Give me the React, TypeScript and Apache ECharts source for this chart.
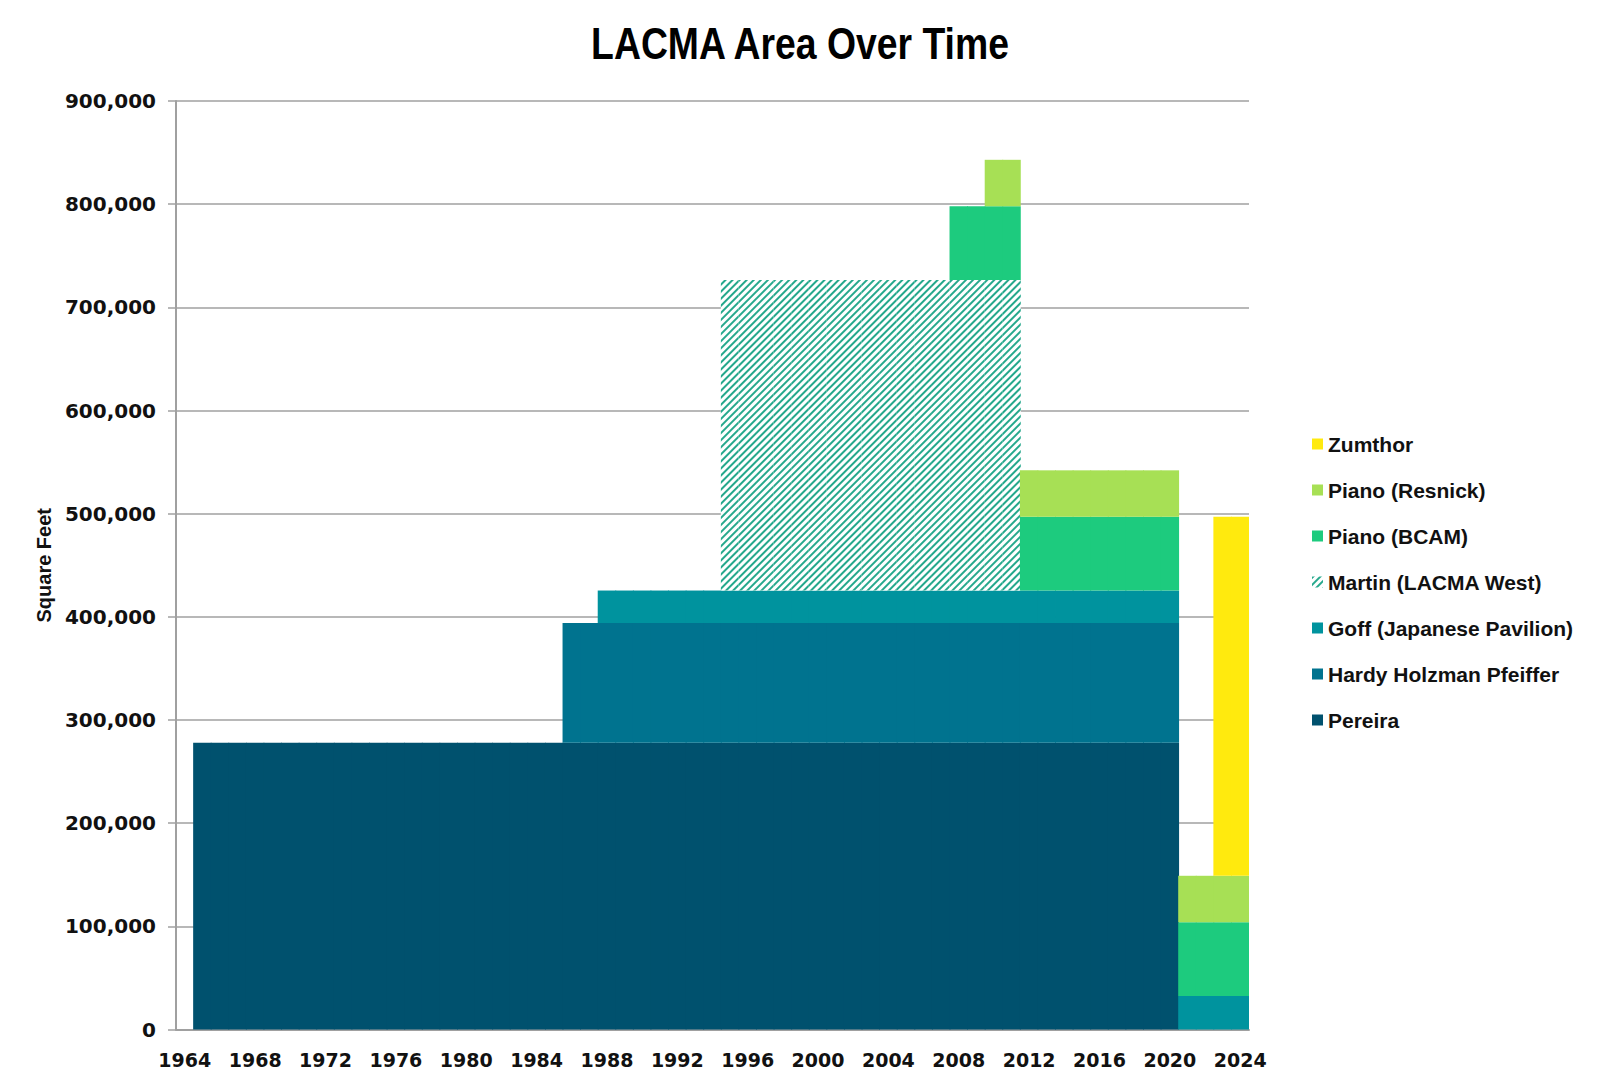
import React, { useEffect, useRef } from "react";
import * as echarts from "echarts";

// Category axis: one band per year
const firstYear = 1964;
const lastYear = 2024;
const years: string[] = [];
for (let y = firstYear; y <= lastYear; y++) years.push(String(y));

// Periods [startYear, endYear, square feet]
const pereiraPeriods: number[][] = [[1965, 2020, 278000]];
const hhpPeriods: number[][] = [[1986, 2020, 116000]];
const goffPeriods: number[][] = [[1988, 2020, 31500], [2021, 2024, 32500]];
const martinPeriods: number[][] = [[1995, 2011, 301000]];
const bcamPeriods: number[][] = [[2008, 2024, 71500]];
const resnickPeriods: number[][] = [[2010, 2024, 45000]];
const zumthorPeriods: number[][] = [[2023, 2024, 348000]];

const yTicks = { min: 0, max: 900000, interval: 100000 };

const titleText = "LACMA Area Over Time";
const yName = "Square Feet";

const colors = {
  pereira: "#00516e",
  hhp: "#00738f",
  goff: "#00939e",
  martinStripe: "#25a88c",
  bcam: "#1dcb7e",
  resnick: "#a7e055",
  zumthor: "#ffea0e",
};

function expand(periods: number[][]): (number | null)[] {
  return years.map((y) => {
    const yr = Number(y);
    const p = periods.find(([a, b]) => yr >= a && yr <= b);
    return p ? p[2] : null;
  });
}

const labelFont = "'DejaVu Sans', Verdana, sans-serif";
const legendFont = "'Liberation Sans', Arial, sans-serif";

export default function App() {
  const ref = useRef<HTMLDivElement>(null);
  useEffect(() => {
    if (!ref.current) return;
    const chart = echarts.init(ref.current, undefined, { renderer: "svg" });
    const mk = (name: string, periods: number[][], color: string, extra?: any) => ({
      name,
      type: "bar",
      stack: "total",
      barWidth: "105%",
      barGap: "-100%",
      data: expand(periods),
      itemStyle: extra ? { borderWidth: 0, ...extra } : { color, borderWidth: 0 },
      emphasis: { disabled: true },
    });
    const series = [
      mk("Pereira", pereiraPeriods, colors.pereira),
      mk("Hardy Holzman Pfeiffer", hhpPeriods, colors.hhp),
      mk("Goff (Japanese Pavilion)", goffPeriods, colors.goff),
      mk("Martin (LACMA West)", martinPeriods, "#ffffff", {
        color: "#ffffff",
        decal: {
          symbol: "rect",
          symbolSize: 1,
          color: colors.martinStripe,
          dashArrayX: [[1, 0]],
          dashArrayY: [2, 2.2],
          rotation: -Math.PI / 4,
        },
      }),
      mk("Piano (BCAM)", bcamPeriods, colors.bcam),
      mk("Piano (Resnick)", resnickPeriods, colors.resnick),
      mk("Zumthor", zumthorPeriods, colors.zumthor),
    ];
    const legendOrder = [
      "Zumthor",
      "Piano (Resnick)",
      "Piano (BCAM)",
      "Martin (LACMA West)",
      "Goff (Japanese Pavilion)",
      "Hardy Holzman Pfeiffer",
      "Pereira",
    ];
    chart.setOption({
      animation: false,
      backgroundColor: "#ffffff",
      graphic: [
        {
          type: "text",
          x: 800,
          y: 21,
          scaleX: 0.83,
          style: {
            text: titleText,
            fontFamily: legendFont,
            fontWeight: "bold",
            fontSize: 45,
            fill: "#000",
            textAlign: "center",
            textVerticalAlign: "top",
          },
        },
      ],
      grid: { left: 176, right: 351, top: 101, bottom: 53.5, containLabel: false },
      legend: {
        orient: "vertical",
        left: 1307,
        top: 428,
        itemWidth: 11,
        itemHeight: 11,
        itemGap: 24,
        icon: "rect",
        selectedMode: false,
        data: legendOrder,
        itemStyle: { borderWidth: 0 },
        textStyle: {
          fontFamily: legendFont,
          fontWeight: "bold",
          fontSize: 21,
          lineHeight: 22,
          color: "#111",
        },
      },
      xAxis: {
        type: "category",
        data: years,
        boundaryGap: true,
        axisLine: { lineStyle: { color: "#a0a0a0", width: 2 } },
        axisTick: { interval: 0, length: 6, lineStyle: { color: "#a0a0a0", width: 1.5 } },
        axisLabel: {
          interval: 3,
          margin: 21,
          fontFamily: labelFont,
          fontWeight: "bold",
          fontSize: 19,
          color: "#111",
        },
      },
      yAxis: {
        type: "value",
        min: yTicks.min,
        max: yTicks.max,
        interval: yTicks.interval,
        name: yName,
        nameLocation: "middle",
        nameGap: 122,
        nameTextStyle: {
          fontFamily: legendFont,
          fontWeight: "bold",
          fontSize: 20,
          color: "#111",
        },
        axisLine: { show: true, lineStyle: { color: "#a0a0a0", width: 2 } },
        axisTick: { show: true, length: 8, lineStyle: { color: "#a0a0a0", width: 1.5 } },
        splitLine: { lineStyle: { color: "#a0a0a0", width: 1.5 } },
        axisLabel: {
          margin: 20,
          fontFamily: labelFont,
          fontWeight: "bold",
          fontSize: 20,
          color: "#111",
          formatter: (v: number) => v.toLocaleString("en-US"),
        },
      },
      series,
    });
    return () => chart.dispose();
  }, []);
  return (
    <div
      ref={ref}
      style={{ position: "fixed", left: 0, top: 0, width: 1600, height: 1083 }}
    />
  );
}
